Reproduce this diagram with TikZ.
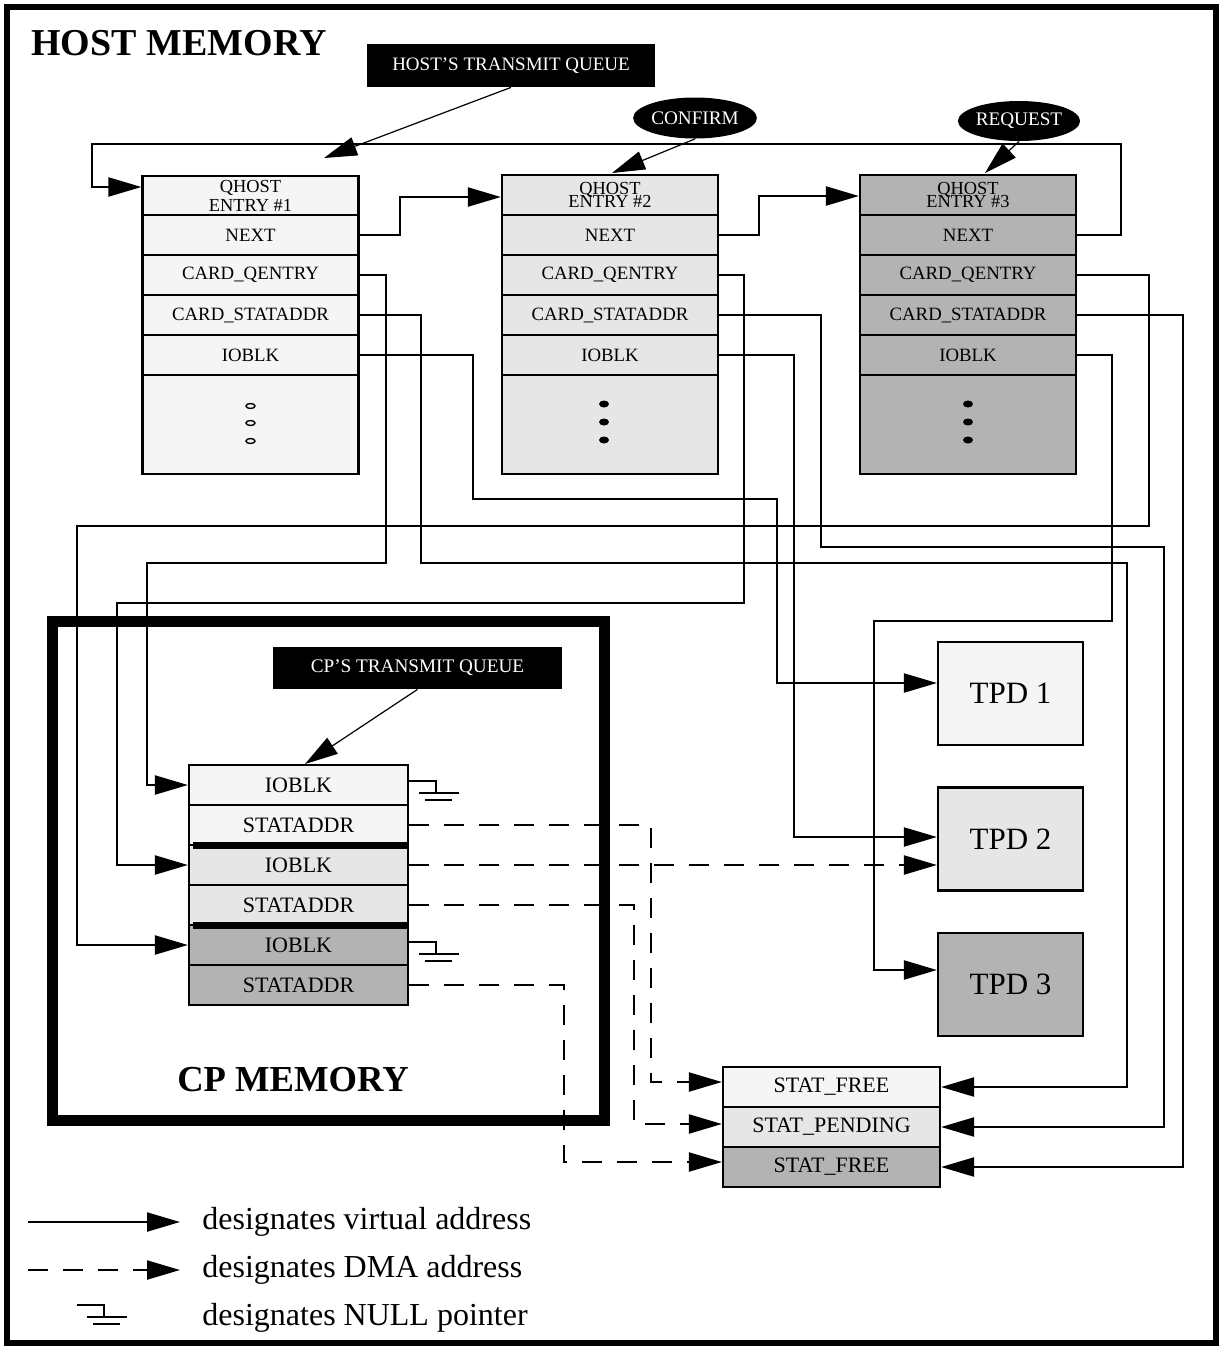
\documentclass[tikz,border=0pt]{standalone}
\usepackage{fontspec}
\setmainfont{Liberation Serif}
\usetikzlibrary{arrows.meta,shapes.geometric}
\definecolor{fa}{HTML}{F5F5F5}
\definecolor{fb}{HTML}{E6E6E6}
\definecolor{fc}{HTML}{B3B3B3}
\tikzset{
  wline/.style={line width=1.1pt},
  cell/.style={draw, wline, inner sep=0pt, minimum width=108pt, minimum height=20pt, font=\fontsize{9.4}{11}\selectfont},
  hcell/.style={cell, align=center, font=\fontsize{9.2}{9.5}\selectfont},
  cpcell/.style={draw, wline, inner sep=0pt, minimum width=109.5pt, minimum height=20pt, font=\fontsize{11}{13}\selectfont},
  statcell/.style={draw, wline, inner sep=0pt, minimum width=108.5pt, minimum height=20pt, font=\fontsize{11}{13}\selectfont},
  tpdbox/.style={draw, wline, inner sep=0pt, minimum width=72.5pt, minimum height=51.5pt, font=\fontsize{15.5}{18}\selectfont},
  blackbox/.style={fill=black, text=white, inner sep=0pt},
  blackoval/.style={ellipse, fill=black, text=white, inner sep=0pt, font=\fontsize{9.6}{11}\selectfont},
  bigtip/.style={-{Triangle[length=16.5pt,width=9.5pt]}},
  conn/.style={wline, bigtip},
  dma/.style={wline, bigtip, dash pattern=on 10pt off 7.5pt},
  thinarr/.style={line width=0.6pt, bigtip},
  legendtext/.style={anchor=west, inner sep=0pt, font=\fontsize{16}{19}\selectfont},
  gnd/.pic={\draw[wline] (0,0) -- (27,0) -- (27,12); \draw[wline] (10,12) -- (50,12); \draw[wline] (16,19) -- (43,19);},
}
\begin{document}
\begin{tikzpicture}[x=0.5pt,y=-0.5pt]
\useasboundingbox (0,0) rectangle (1222,1351);
% frames
\draw[line width=3pt] (7,7) rectangle (1216,1343);
\draw[line width=5.5pt] (52.5,621.5) rectangle (604.5,1120);

% titles
\node[anchor=base west, inner sep=0pt, font=\fontsize{19}{22}\selectfont\bfseries] (hm) at (31,55) {HOST MEMORY};
\node[anchor=base, inner sep=0pt, font=\fontsize{18.3}{22}\selectfont\bfseries] (cpm) at (293,1091) {CP MEMORY};

% queue labels
\node[blackbox, minimum width=144pt, minimum height=21.5pt, font=\fontsize{9.5}{11}\selectfont] (htq) at (511,65.5) {HOST'S TRANSMIT QUEUE};
\node[blackbox, minimum width=144.5pt, minimum height=21pt, font=\fontsize{9.6}{11}\selectfont] (cptq) at (417.5,668) {CP'S TRANSMIT QUEUE};
\node[blackoval, minimum width=56.5pt, minimum height=20.5pt] (cf) at (695,118) {CONFIRM};
\node[blackoval, minimum width=56pt, minimum height=20pt] (rq) at (1019,121) {REQUEST};

% QHOST entry 1
\node[hcell, fill=fa] (e1h) at (250.5,196) {QHOST\\ENTRY \#1};
\node[cell, fill=fa] (e1n) at (250.5,235) {NEXT};
\node[cell, fill=fa] (e1q) at (250.5,275) {CARD\_QENTRY};
\node[cell, fill=fa] (e1s) at (250.5,315) {CARD\_STATADDR};
\node[cell, fill=fa] (e1i) at (250.5,355) {IOBLK};
\node[cell, fill=fa, minimum height=49.5pt] (e1d) at (250.5,424.5) {};
\foreach \yy in {406,423,441} \draw[line width=0.7pt] (250.5,\yy) ellipse [x radius=4.5, y radius=2.5];

% QHOST entry 2
\node[hcell, fill=fb] (e2h) at (610,195) {QHOST\\[-2.7pt]ENTRY \#2};
\node[cell, fill=fb] (e2n) at (610,235) {NEXT};
\node[cell, fill=fb] (e2q) at (610,275) {CARD\_QENTRY};
\node[cell, fill=fb] (e2s) at (610,315) {CARD\_STATADDR};
\node[cell, fill=fb] (e2i) at (610,355) {IOBLK};
\node[cell, fill=fb, minimum height=49.5pt] (e2d) at (610,424.5) {};
\foreach \yy in {404,422,440} \fill (604,\yy) ellipse [x radius=5, y radius=3.5];

% QHOST entry 3
\node[hcell, fill=fc] (e3h) at (968,195) {QHOST\\[-2.7pt]ENTRY \#3};
\node[cell, fill=fc] (e3n) at (968,235) {NEXT};
\node[cell, fill=fc] (e3q) at (968,275) {CARD\_QENTRY};
\node[cell, fill=fc] (e3s) at (968,315) {CARD\_STATADDR};
\node[cell, fill=fc] (e3i) at (968,355) {IOBLK};
\node[cell, fill=fc, minimum height=49.5pt] (e3d) at (968,424.5) {};
\foreach \yy in {404,422,440} \fill (968,\yy) ellipse [x radius=5, y radius=3.5];

% CP queue
\node[cpcell, fill=fa] (c1i) at (298.5,785) {IOBLK};
\node[cpcell, fill=fa] (c1s) at (298.5,825) {STATADDR};
\node[cpcell, fill=fb] (c2i) at (298.5,865) {IOBLK};
\node[cpcell, fill=fb] (c2s) at (298.5,905) {STATADDR};
\node[cpcell, fill=fc] (c3i) at (298.5,945) {IOBLK};
\node[cpcell, fill=fc] (c3s) at (298.5,985) {STATADDR};
\fill (193,842) rectangle (408,849);
\fill (193,922) rectangle (408,929);

% TPDs
\node[tpdbox, fill=fa] (t1) at (1010.5,693.5) {TPD 1};
\node[tpdbox, fill=fb] (t2) at (1010.5,839) {TPD 2};
\node[tpdbox, fill=fc] (t3) at (1010.5,984.5) {TPD 3};

% status
\node[statcell, fill=fa] (s1) at (831.5,1087) {STAT\_FREE};
\node[statcell, fill=fb] (s2) at (831.5,1127) {STAT\_PENDING};
\node[statcell, fill=fc] (s3) at (831.5,1167) {STAT\_FREE};

% label arrows
\coordinate (htqtip) at (324,158);
\coordinate (cftip) at (612,173);
\coordinate (rqtip) at (985,173);
\coordinate (cptqtip) at (305,764);
\draw[thinarr] (htq.south) -- (htqtip);
\draw[thinarr] (cf.south) -- (cftip);
\draw[thinarr] (rq.south) -- (rqtip);
\draw[thinarr] (cptq.south) -- (cptqtip);

% NEXT chain
\draw[conn] (e1n.east) -- (400,235) |- (e2h.west |- 0,197);
\draw[conn] (e2n.east) -- (759,235) |- (e3h.west |- 0,196);
\draw[conn] (e3n.east) -| (1121,144) -| (92,170) |- (e1h.west |- 0,187);

% CARD_QENTRY -> CP IOBLK
\draw[conn] (e1q.east) -| (386,563) -| (147,700) |- (c1i.west);
\draw[conn] (e2q.east) -| (744,603) -| (117,750) |- (c2i.west);
\draw[conn] (e3q.east) -| (1149,526) -| (77,800) |- (c3i.west);

% CARD_STATADDR -> status
\draw[conn] (e1s.east) -| (421,563) -| (1127,900) |- (s1.east);
\draw[conn] (e2s.east) -| (821,547) -| (1164,900) |- (s2.east);
\draw[conn] (e3s.east) -| (1183,900) |- (s3.east);

% IOBLK -> TPD
\draw[conn] (e1i.east) -| (473,499) -| (777,600) |- (t1.west |- 0,683);
\draw[conn] (e2i.east) -| (794,700) |- (t2.west |- 0,837);
\draw[conn] (e3i.east) -| (1112,621) -| (874,900) |- (t3.west |- 0,970);

% DMA addresses
\draw[dma] (c1s.east) -| (651,1000) |- (s1.west |- 0,1082);
\draw[dma] (c2i.east) -- (t2.west |- c2i.east);
\draw[dma] (c2s.east) -| (634,1000) |- (s2.west |- 0,1124);
\draw[dma] (c3s.east) -| (564,1100) |- (s3.west |- 0,1162);

% NULL pointers
\pic at (c1i.east |- 0,781) {gnd};
\pic at (c3i.east |- 0,942) {gnd};

% legend
\coordinate (l1a) at (28,1222); \coordinate (l1b) at (180,1222);
\coordinate (l2a) at (28,1270); \coordinate (l2b) at (180,1270);
\draw[conn] (l1a) -- (l1b);
\draw[dma] (l2a) -- (l2b);
\pic at (77,1305) {gnd};
\node[legendtext] (lt1) at (202,1222) {designates virtual address};
\node[legendtext] (lt2) at (202,1270) {designates DMA address};
\node[legendtext] (lt3) at (202,1318) {designates NULL pointer};
\end{tikzpicture}
\end{document}
